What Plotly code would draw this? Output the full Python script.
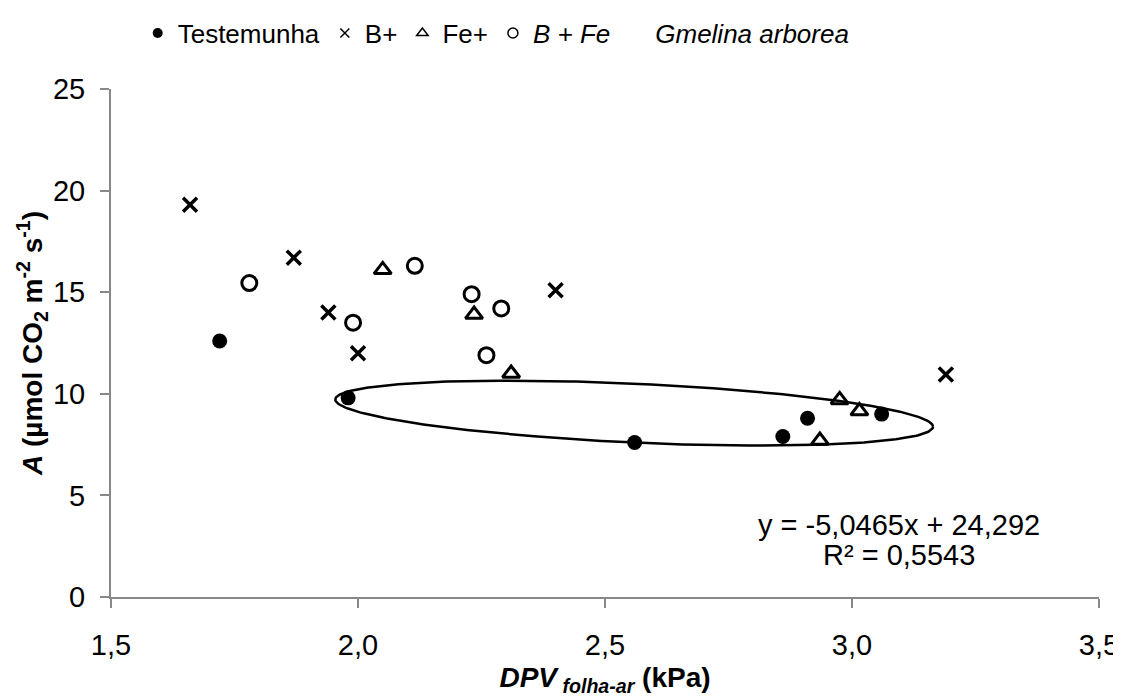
import numpy as np
import plotly.graph_objects as go

# ---- data ----
test_x = [1.72, 1.98, 2.56, 2.86, 2.91, 3.06]
test_y = [12.6, 9.8, 7.6, 7.9, 8.8, 9.0]

bplus_x = [1.66, 1.87, 1.94, 2.00, 2.40, 3.19]
bplus_y = [19.3, 16.7, 14.0, 12.0, 15.1, 10.95]

feplus_x = [2.05, 2.235, 2.31, 2.975, 3.015, 2.935]
feplus_y = [16.1, 13.9, 11.0, 9.7, 9.15, 7.7]

bfe_x = [1.78, 2.115, 1.99, 2.23, 2.29, 2.26]
bfe_y = [15.45, 16.3, 13.5, 14.9, 14.2, 11.9]

x_ticks = [1.5, 2.0, 2.5, 3.0, 3.5]
y_ticks = [0, 5, 10, 15, 20, 25]

equation_line = "y = -5,0465x + 24,292"
r2_line = "R² = 0,5543"

# ellipse (highlight) in data units: end points and vertical half-size
ell_left = (1.954, 9.72)
ell_right = (3.164, 8.38)
ell_half_height = 1.45

FONT = "Arial, Liberation Sans, sans-serif"

fig = go.Figure()

# data traces
fig.add_trace(go.Scatter(x=test_x, y=test_y, mode="markers", showlegend=False,
                         marker=dict(symbol="circle", size=15, color="black")))
fig.add_trace(go.Scatter(x=bplus_x, y=bplus_y, mode="markers", showlegend=False,
                         marker=dict(symbol="x-thin", size=14, color="black",
                                     line=dict(width=3.5, color="black"))))
fig.add_trace(go.Scatter(x=feplus_x, y=feplus_y, mode="markers", showlegend=False,
                         marker=dict(symbol="triangle-up-open", size=15, color="black",
                                     line=dict(width=3, color="black"))))
fig.add_trace(go.Scatter(x=bfe_x, y=bfe_y, mode="markers", showlegend=False,
                         marker=dict(symbol="circle-open", size=15, color="black",
                                     line=dict(width=3, color="black"))))

# ellipse outline
t = np.linspace(0, 2 * np.pi, 300)
cx = (ell_left[0] + ell_right[0]) / 2
cy = (ell_left[1] + ell_right[1]) / 2
dx = (ell_right[0] - ell_left[0]) / 2
dy = (ell_right[1] - ell_left[1]) / 2
fig.add_trace(go.Scatter(x=cx + np.cos(t) * dx, y=cy + np.cos(t) * dy + np.sin(t) * ell_half_height,
                         mode="lines", line=dict(color="black", width=2.5),
                         showlegend=False, hoverinfo="skip"))

# legend-only traces
fig.add_trace(go.Scatter(x=[None], y=[None], mode="markers", name="Testemunha",
                         marker=dict(symbol="circle", size=10, color="black")))
fig.add_trace(go.Scatter(x=[None], y=[None], mode="markers", name="B+",
                         marker=dict(symbol="x-thin", size=9, color="black",
                                     line=dict(width=1.5, color="black"))))
fig.add_trace(go.Scatter(x=[None], y=[None], mode="markers", name="Fe+",
                         marker=dict(symbol="triangle-up-open", size=10, color="black",
                                     line=dict(width=1.5, color="black"))))
fig.add_trace(go.Scatter(x=[None], y=[None], mode="markers", name="<i>B + Fe</i>",
                         marker=dict(symbol="circle-open", size=10, color="black",
                                     line=dict(width=1.5, color="black"))))
fig.add_trace(go.Scatter(x=[None], y=[None], mode="lines", name="<i>Gmelina arborea</i>",
                         line=dict(color="rgba(0,0,0,0)", width=1)))

fig.add_annotation(x=3.095, y=3.54, xref="x", yref="y", text=equation_line,
                   showarrow=False, xanchor="center", yanchor="middle",
                   font=dict(family=FONT, size=29, color="black"))
fig.add_annotation(x=3.095, y=2.07, xref="x", yref="y", text=r2_line,
                   showarrow=False, xanchor="center", yanchor="middle",
                   font=dict(family=FONT, size=29, color="black"))

# the page body has an 8px margin, so the figure is sized/offset to compensate
fig.update_layout(
    width=1113, height=689,
    margin=dict(l=103, r=22, t=81, b=100, autoexpand=False),
    paper_bgcolor="white", plot_bgcolor="white",
    separators=",.",
    font=dict(family=FONT, size=26, color="black"),
    legend=dict(orientation="h", x=0.027, xanchor="left", y=1.11, yanchor="middle",
                font=dict(family=FONT, size=26, color="black"),
                itemwidth=30, tracegroupgap=0, bgcolor="rgba(0,0,0,0)"),
    xaxis=dict(range=[1.5, 3.5], tickvals=x_ticks, tickformat=".1f",
               showline=True, linecolor="#888888", linewidth=2,
               ticks="outside", ticklen=9, tickwidth=2, tickcolor="#888888",
               showgrid=False, zeroline=False, automargin=False, ticklabelstandoff=12,
               ticklabeloverflow="allow",
               tickfont=dict(family=FONT, size=29, color="black"),
               title=dict(text="<b><i>DPV</i></b><sub><b><i> folha-ar</i></b></sub><b> (kPa)</b>",
                          font=dict(family=FONT, size=28, color="black"), standoff=22)),
    yaxis=dict(range=[0, 25], tickvals=y_ticks,
               showline=True, linecolor="#888888", linewidth=2,
               ticks="outside", ticklen=9, tickwidth=2, tickcolor="#888888",
               showgrid=False, zeroline=False, ticklabelstandoff=9, automargin=False,
               tickfont=dict(family=FONT, size=29, color="black"),
               title=dict(text="<b><i>A</i> (µmol CO<sub>2</sub> m<sup>-2</sup> s<sup>-1</sup>)</b>",
                          font=dict(family=FONT, size=28, color="black"), standoff=2)),
)

fig.write_html("out.html")
